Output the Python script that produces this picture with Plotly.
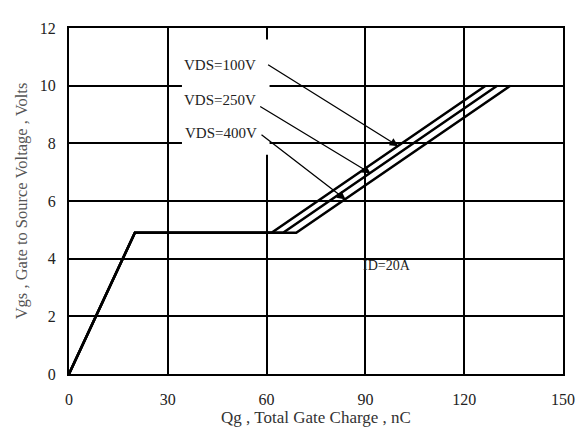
import plotly.graph_objects as go

# Data
series_names = ["VDS=100V", "VDS=250V", "VDS=400V"]
qg_100 = [0, 20, 61.5, 126.5]
qg_250 = [0, 20, 65.0, 130.0]
qg_400 = [0, 20, 69.0, 134.0]
vgs = [0, 4.9, 4.9, 10.0]

x_ticks = [0, 30, 60, 90, 120, 150]
y_ticks = [0, 2, 4, 6, 8, 10, 12]

# arrow label positions / targets (data units)
label_pos = [(45.8, 10.72), (45.8, 9.5), (46.3, 8.35)]
arrow_start = [(60.0, 10.76), (57.6, 9.31), (58.0, 8.34)]
arrow_tip = [(100.0, 7.9), (91.6, 6.96), (84.0, 6.05)]

FONT = "Liberation Serif"

fig = go.Figure()
for name, xs in zip(series_names, [qg_100, qg_250, qg_400]):
    fig.add_trace(go.Scatter(x=xs, y=vgs, mode="lines", name=name,
                             line=dict(color="black", width=2.5), showlegend=False))

# white box behind labels (covers gridlines as in reference)
fig.add_shape(type="rect", x0=34.3, x1=60.9, y0=7.6, y1=11.6, xref="x", yref="y",
              fillcolor="white", line=dict(width=0), layer="above")

for name, (lx, ly), (sx, sy), (tx, ty) in zip(series_names, label_pos, arrow_start, arrow_tip):
    fig.add_annotation(x=lx, y=ly, text=name, showarrow=False,
                       font=dict(family=FONT, size=15, color="#222"))
    fig.add_annotation(x=tx, y=ty, ax=sx, ay=sy, axref="x", ayref="y", xref="x", yref="y",
                       text="", showarrow=True, arrowhead=2, arrowsize=1.3, arrowwidth=1.3,
                       arrowcolor="black")

fig.add_annotation(x=96.5, y=3.75, text="ID=20A", showarrow=False,
                   font=dict(family=FONT, size=14, color="#222"))

axis_common = dict(showgrid=True, gridcolor="black", gridwidth=1.5, showline=True,
                   linecolor="black", linewidth=2, mirror=True, zeroline=False,
                   ticks="", tickfont=dict(family=FONT, size=16, color="#222"))

fig.update_xaxes(range=[0, 150], tickvals=x_ticks, ticklabelstandoff=10,
                 title=dict(text="Qg , Total Gate Charge , nC", standoff=2,
                            font=dict(family=FONT, size=17, color="#333")),
                 **axis_common)
fig.update_yaxes(range=[0, 12], tickvals=y_ticks, ticklabelstandoff=8,
                 title=dict(text="Vgs , Gate to Source Voltage , Volts", standoff=8,
                            font=dict(family=FONT, size=16.5, color="#555")),
                 **axis_common)

# page body has an 8px margin; size the figure so it fits the window without scrollbars
fig.update_layout(width=580, height=434, margin=dict(l=60, r=25, t=12, b=68),
                  plot_bgcolor="white", paper_bgcolor="white")

fig.write_html("out.html")
